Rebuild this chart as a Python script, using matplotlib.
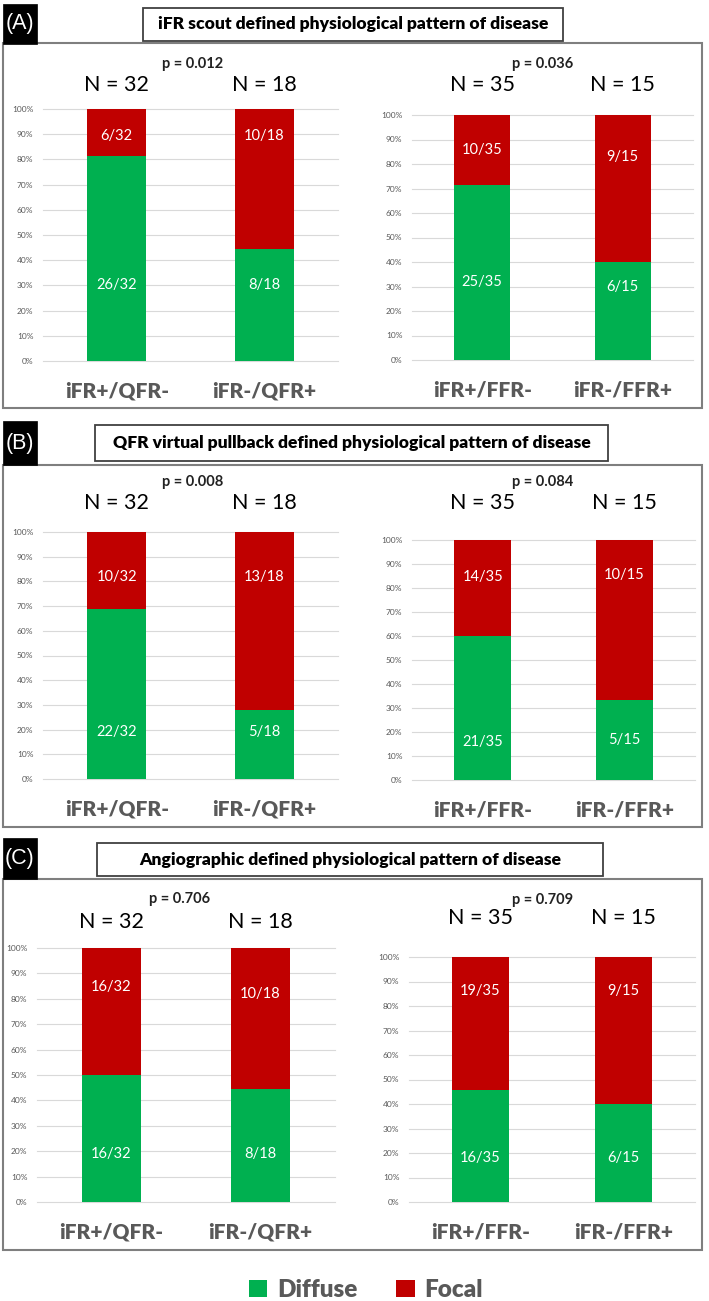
import numpy as np
import matplotlib
matplotlib.use("Agg")
import matplotlib.pyplot as plt
from matplotlib.patches import Rectangle
from matplotlib.transforms import blended_transform_factory

plt.rcParams['font.family'] = ['Lato', 'DejaVu Sans']

# ---- data ----
panel_letters = ["(A)", "(B)", "(C)"]
panel_titles = [
    "iFR scout defined physiological pattern of disease",
    "QFR virtual pullback defined physiological pattern of disease",
    "Angiographic defined physiological pattern of disease",
]
qfr_groups = ["iFR+/QFR-", "iFR-/QFR+"]
ffr_groups = ["iFR+/FFR-", "iFR-/FFR+"]
qfr_totals = [32, 18]
ffr_totals = [35, 15]
qfr_diffuse = [[26, 8], [22, 5], [16, 8]]   # per panel A, B, C
ffr_diffuse = [[25, 6], [21, 5], [16, 6]]
qfr_p = ["0.012", "0.008", "0.706"]
ffr_p = ["0.036", "0.084", "0.709"]
legend_labels = ["Diffuse", "Focal"]

GREEN = "#00B050"
RED = "#C00000"
GRAY_TXT = "#595959"

# ---- layout (pixels) ----
W, H = 709, 1301
layout = [
    dict(letter=(3, 4, 37, 44), title=(143, 8, 563, 41), frame=(3, 43, 702, 408),
         axes=[(43, 109, 338, 361), (412, 115, 693, 360)],
         p=[(193, 64), (543, 64)], n_y=[85, 85],
         red_y=[[0.893, 0.893], [0.857, 0.83]], green_y=[[0.30, 0.30], [0.318, 0.298]]),
    dict(letter=(3, 421, 37, 465), title=(95, 425, 608, 461), frame=(3, 465, 702, 827),
         axes=[(43, 532, 338, 779), (412, 540, 695, 780)],
         p=[(193, 482), (543, 482)], n_y=[503, 503],
         red_y=[[0.818, 0.818], [0.846, 0.854]], green_y=[[0.19, 0.19], [0.16, 0.167]]),
    dict(letter=(3, 838, 37, 879), title=(97, 843, 603, 876), frame=(3, 879, 702, 1250),
         axes=[(37, 948, 335, 1202), (409, 957, 695, 1202)],
         p=[(180, 899), (543, 900)], n_y=[922, 918],
         red_y=[[0.846, 0.819], [0.861, 0.861]], green_y=[[0.189, 0.189], [0.18, 0.18]]),
]

fig = plt.figure(figsize=(W / 100, H / 100), dpi=100)


def fx(x):
    return x / W


def fy(y):
    return 1 - y / H


def add_rect(box, **kw):
    x0, y0, x1, y1 = box
    r = Rectangle((fx(x0), fy(y1)), (x1 - x0) / W, (y1 - y0) / H,
                  transform=fig.transFigure, **kw)
    fig.add_artist(r)


bars_for_legend = None
for k, lay in enumerate(layout):
    # frames and headings
    add_rect(lay["frame"], facecolor="none", edgecolor="#7F7F7F", lw=1.5)
    add_rect(lay["letter"], facecolor="black", edgecolor="black", lw=0.5, zorder=3)
    lx0, ly0, lx1, ly1 = lay["letter"]
    fig.text(fx((lx0 + lx1) / 2), fy((ly0 + ly1) / 2), panel_letters[k],
             color="white", fontsize=15.5, ha="center", va="center",
             family="Liberation Sans", zorder=4)
    add_rect(lay["title"], facecolor="white", edgecolor="#404040", lw=1.3, zorder=3)
    tx0, ty0, tx1, ty1 = lay["title"]
    fig.text(fx((tx0 + tx1) / 2), fy((ty0 + ty1) / 2), panel_titles[k],
             fontsize=12.6, fontweight="heavy", ha="center", va="center", zorder=4)

    sides = [(qfr_groups, qfr_totals, qfr_diffuse[k], qfr_p[k]),
             (ffr_groups, ffr_totals, ffr_diffuse[k], ffr_p[k])]
    for s, (groups, totals, diffuse, pval) in enumerate(sides):
        x0, y0, x1, y1 = lay["axes"][s]
        ax = fig.add_axes([fx(x0), fy(y1), (x1 - x0) / W, (y1 - y0) / H])
        x = np.arange(len(groups))
        tot = np.array(totals, dtype=float)
        dif = np.array(diffuse, dtype=float) / tot
        foc = 1 - dif
        b1 = ax.bar(x, dif, width=0.4, color=GREEN, zorder=2)
        b2 = ax.bar(x, foc, bottom=dif, width=0.4, color=RED, zorder=2)
        if bars_for_legend is None:
            bars_for_legend = (b1, b2)
        ax.set_xlim(-0.5, 1.5)
        ax.set_ylim(0, 1)
        yt = np.arange(0, 11) / 10
        ax.set_yticks(yt)
        ax.set_yticklabels([f"{int(round(v * 100))}%" for v in yt])
        ax.set_xticks(x)
        ax.set_xticklabels(groups, fontsize=15, fontweight="heavy", color=GRAY_TXT)
        ax.tick_params(axis="y", length=0, pad=7, labelsize=6, labelcolor=GRAY_TXT)
        ax.tick_params(axis="x", length=0, pad=15)
        for sp in ax.spines.values():
            sp.set_visible(False)
        for v in yt:
            ax.axhline(v, color="#D9D9D9", lw=0.8, zorder=1, clip_on=False)

        # value labels inside bars
        for i in range(len(groups)):
            d = diffuse[i]
            t = totals[i]
            ax.text(i, lay["green_y"][s][i], f"{d}/{t}", color="white", fontsize=10.5,
                    ha="center", va="center", zorder=3)
            ax.text(i, lay["red_y"][s][i], f"{t - d}/{t}", color="white", fontsize=10.5,
                    ha="center", va="center", zorder=3)

        # N labels above bars (x from data, y from figure)
        trans = blended_transform_factory(ax.transData, fig.transFigure)
        for i in range(len(groups)):
            ax.text(i, fy(lay["n_y"][s]), f"N = {totals[i]}", transform=trans,
                    fontsize=15.5, ha="center", va="center", color="black")

        px, py = lay["p"][s]
        fig.text(fx(px), fy(py), f"p = {pval}", fontsize=10.5, fontweight="bold",
                 ha="center", va="center", color="#222222")

fig.legend(bars_for_legend, legend_labels, loc="center",
           bbox_to_anchor=(fx(366), fy(1290)), ncol=2, frameon=False,
           handlelength=0.75, handleheight=0.75, handletextpad=0.4,
           columnspacing=1.6, prop=dict(family="Lato", weight="heavy", size=17.5),
           labelcolor=GRAY_TXT)

fig.savefig("out.png", dpi=100)
